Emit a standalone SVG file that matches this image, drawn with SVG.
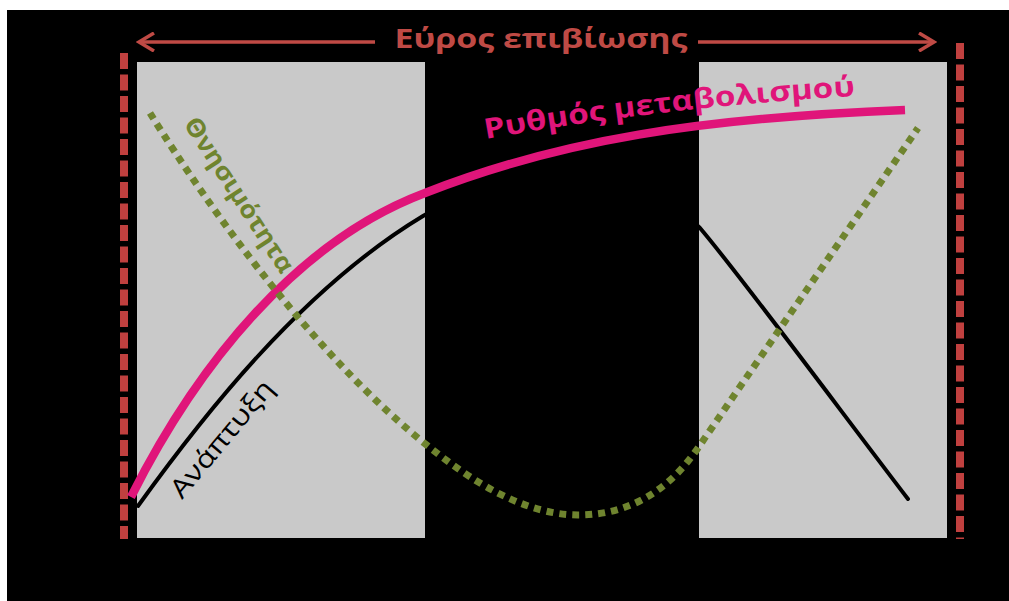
<svg xmlns="http://www.w3.org/2000/svg" xmlns:xlink="http://www.w3.org/1999/xlink" width="1009" height="601" viewBox="0 0 1009 601">
  <style>
    .panel { fill: #c9c9c9; }
    .bound { fill: none; stroke: #c0403f; stroke-width: 8; stroke-dasharray: 16 5.5; }
    .range { fill: none; stroke: #bf4a45; stroke-width: 3.5; }
    .title { font-family: "Open Sans", "Liberation Sans", sans-serif; font-weight: bold; font-size: 27px; fill: #bf4a45; }
    .growth { fill: none; stroke: #000; stroke-width: 4; stroke-linecap: round; }
    .metab { fill: none; stroke: #e0157a; stroke-width: 8.5; stroke-linecap: butt; }
    .mort { fill: none; stroke: #6f842f; stroke-width: 7; stroke-dasharray: 7 6; }
    .lbl-metab { font-family: "Open Sans", "Liberation Sans", sans-serif; font-weight: bold; font-size: 28px; fill: #e0157a; }
    .lbl-mort { font-family: "Open Sans", "Liberation Sans", sans-serif; font-weight: bold; font-size: 25px; fill: #6f842f; }
    .lbl-growth { font-family: "Open Sans", "Liberation Sans", sans-serif; font-size: 26px; fill: #000; }
  </style>
  <defs>
    <marker id="head" viewBox="0 0 20 20" refX="17" refY="10" markerWidth="20" markerHeight="20" markerUnits="userSpaceOnUse" orient="auto">
      <path d="M2,1 L17,10 L2,19" fill="none" stroke="#bf4a45" stroke-width="3.5" stroke-linejoin="miter"/>
    </marker>
    <path id="metabPath" d="M486,139 C 570,124 700,104 875,95"/>
  </defs>

  <rect x="0" y="0" width="1009" height="601" fill="#ffffff"/>
  <rect x="7" y="10" width="1002" height="591" fill="#000000"/>

  <g id="zone-left">
    <rect class="panel" x="137" y="62" width="288" height="476"/>
  </g>
  <g id="zone-right">
    <rect class="panel" x="699" y="62" width="248" height="476"/>
  </g>

  <g id="connectors">
    <line class="bound" x1="124" y1="53" x2="124" y2="539"/>
    <line class="bound" x1="960" y1="43" x2="960" y2="539"/>
    <line class="range" x1="375" y1="42" x2="139" y2="42" marker-end="url(#head)"/>
    <line class="range" x1="698" y1="42" x2="934" y2="42" marker-end="url(#head)"/>
  </g>

  <g id="title">
    <text class="title" x="541" y="48" text-anchor="middle" textLength="293" lengthAdjust="spacingAndGlyphs">Εύρος επιβίωσης</text>
  </g>

  <g id="growth">
    <path class="growth" d="M138,506 C 200,420 300,290 423,216 C 520,160 620,150 700,228 C 740,275 840,410 908,499"/>
    <text class="lbl-growth" transform="translate(182,500) rotate(-50)" textLength="145" lengthAdjust="spacingAndGlyphs">Ανάπτυξη</text>
  </g>

  <g id="metabolism">
    <path class="metab" d="M131,497 C 200,360 300,240 425,193 C 560,140 700,118 905,110"/>
    <text class="lbl-metab"><textPath xlink:href="#metabPath" href="#metabPath" textLength="372" lengthAdjust="spacingAndGlyphs">Ρυθμός μεταβολισμού</textPath></text>
  </g>

  <g id="mortality">
    <path class="mort" d="M150,113 C 210,210 330,380 460,470 C 510,505 550,515 578,515 C 630,515 670,490 700,445 L 918,128"/>
    <text class="lbl-mort" transform="translate(183,124) rotate(57)" textLength="180" lengthAdjust="spacingAndGlyphs">Θνησιμότητα</text>
  </g>
</svg>
